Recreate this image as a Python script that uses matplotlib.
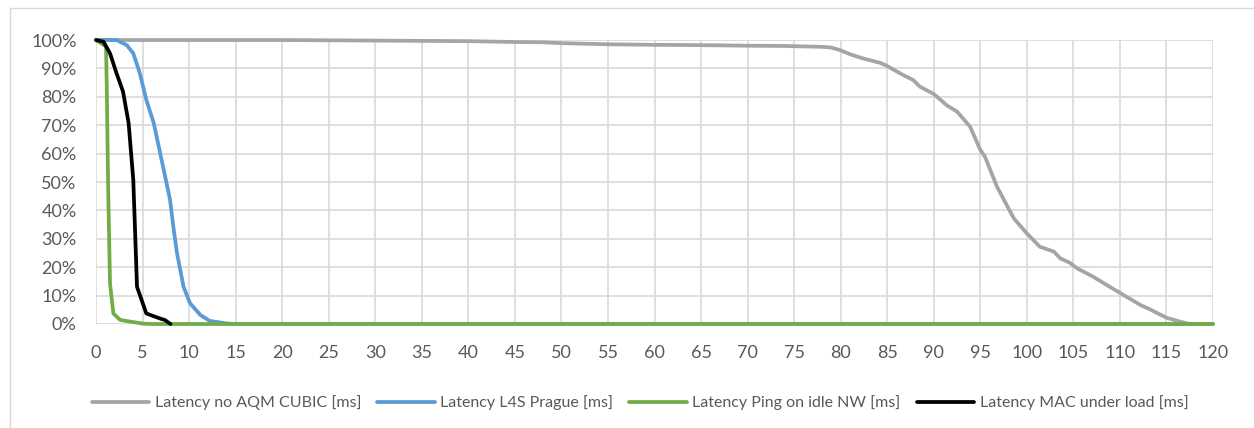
import matplotlib
matplotlib.use("Agg")
import matplotlib.pyplot as plt
from matplotlib.patches import Rectangle
from matplotlib.ticker import PercentFormatter, MultipleLocator

# ─── Data (latency CCDF) ─────────────────────────────────────────────────────

cubic_ms = [0, 10, 20, 25, 30, 35, 40, 45, 48, 50, 55, 60, 65, 70, 74, 78,
            78.9, 79.9, 81, 82.4, 84.2, 84.9, 86.7, 87.8, 88.5, 90, 91.4, 92.5,
            93.9, 95, 95.5, 96.8, 98.6, 100, 101.4, 102.9, 103.6, 104.6, 105.4,
            107.1, 108.6, 110.7, 112.2, 113.2, 115, 116.5, 117.5, 120]
cubic_pct = [100, 100, 100, 99.9, 99.8, 99.7, 99.6, 99.3, 99.2, 98.9, 98.5,
             98.3, 98.2, 98.0, 97.9, 97.6, 97.4, 96.5, 95, 93.5, 92, 91, 87.7,
             85.9, 83.6, 81, 77, 74.8, 69.5, 61.3, 58.9, 48.3, 37.2, 31.9, 27.2,
             25.5, 23.1, 21.6, 19.6, 16.7, 13.7, 9.6, 6.7, 5.2, 2.2, 0.8, 0, 0]

prague_ms = [0, 2.2, 3.3, 4.0, 4.7, 5.4, 6.2, 7.2, 7.95, 8.3, 8.7, 9.4, 10.1,
             11.2, 12.2, 14, 15, 120]
prague_pct = [100, 100, 98.2, 95.3, 88.3, 78.9, 70.7, 55.4, 43.7, 34.3, 24.9,
              13.1, 7.3, 3.2, 1.1, 0.2, 0, 0]

ping_ms = [0, 1.07, 1.15, 1.3, 1.5, 1.86, 2.6, 5.1, 6, 120]
ping_pct = [100, 97.7, 83.6, 48, 14.3, 3.7, 1.4, 0.1, 0, 0]

mac_ms = [0, 0.8, 1.5, 2.2, 2.9, 3.5, 4.0, 4.4, 5.4, 6.9, 7.4, 8.0]
mac_pct = [100, 99.4, 95.3, 88.3, 81.8, 70.7, 50.7, 13.1, 3.7, 1.9, 1.4, 0]

SERIES = [
    (cubic_ms, cubic_pct, "Latency no AQM CUBIC [ms]", "#A5A5A5"),
    (prague_ms, prague_pct, "Latency L4S Prague [ms]", "#5B9BD5"),
    (ping_ms, ping_pct, "Latency Ping on idle NW [ms]", "#70AD47"),
    (mac_ms, mac_pct, "Latency MAC under load [ms]", "#000000"),
]

TEXT_COLOR = "#595959"
GRID_COLOR = "#D9D9D9"

plt.rcParams["font.family"] = ["Lato", "DejaVu Sans"]

fig = plt.figure(figsize=(12.54, 4.28), dpi=100)
ax = fig.add_axes([0.0766, 0.243, 0.8907, 0.6635])

# chart-area border like the spreadsheet frame
fig.patches.append(Rectangle((10 / 1254, -0.01), 1.02, 1 - 8 / 428 + 0.01,
                             transform=fig.transFigure, fill=False,
                             edgecolor=GRID_COLOR, linewidth=1.0))

for xs, ys, label, color in SERIES:
    ax.plot(xs, ys, color=color, linewidth=2.7, label=label,
            solid_joinstyle="round", solid_capstyle="round", clip_on=False)

ax.set_xlim(0, 120)
ax.set_ylim(0, 100)
ax.xaxis.set_major_locator(MultipleLocator(5))
ax.yaxis.set_major_locator(MultipleLocator(10))
ax.yaxis.set_major_formatter(PercentFormatter(decimals=0))

ax.grid(True, color=GRID_COLOR, linewidth=1.2)
ax.set_axisbelow(True)
for side in ["top", "right", "left", "bottom"]:
    ax.spines[side].set_visible(False)

ax.tick_params(axis="both", length=0, labelsize=13, colors=TEXT_COLOR)
ax.tick_params(axis="x", pad=15)
ax.tick_params(axis="y", pad=14)

ax.legend(loc="upper center", bbox_to_anchor=(0.487, -0.2), ncol=4,
          frameon=False, fontsize=11.5, labelcolor=TEXT_COLOR,
          handlelength=3.6, handletextpad=0.35, columnspacing=1.0)

fig.savefig("out.png", dpi=100)
